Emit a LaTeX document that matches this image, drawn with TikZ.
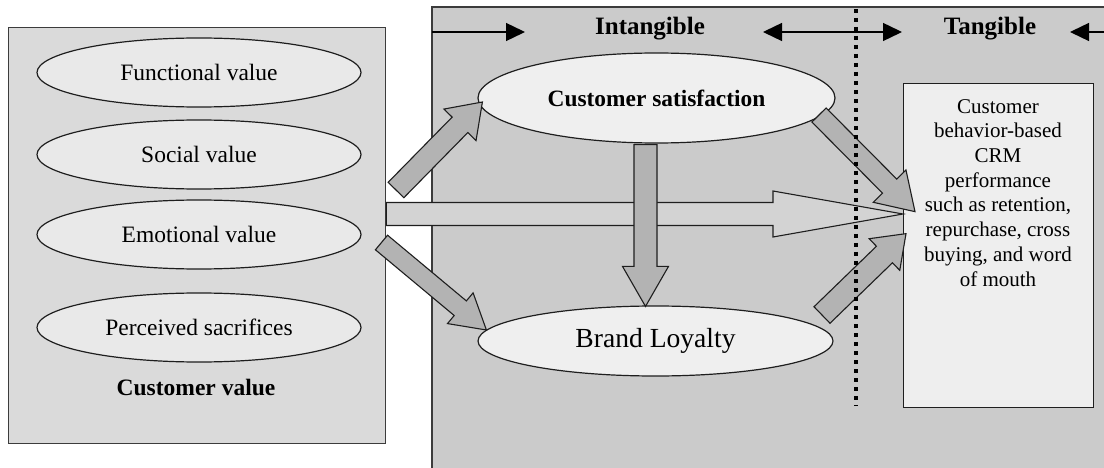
\documentclass[tikz,border=0pt]{standalone}
\usepackage{fontspec}
\setmainfont{Liberation Serif}
\usetikzlibrary{calc,arrows.meta,shapes.geometric}
\definecolor{lpanel}{HTML}{DADADA}
\definecolor{rpanel}{HTML}{CBCBCB}
\definecolor{lell}{HTML}{E9E9E9}
\definecolor{rell}{HTML}{EFEFEF}
\definecolor{boxfill}{HTML}{EEEEEE}
\definecolor{blk}{HTML}{B3B3B3}
\definecolor{hblk}{HTML}{D3D3D3}
\definecolor{edge}{HTML}{1E1E1E}
\definecolor{pedge}{HTML}{3C3C3C}
% #1 style, #2 from, #3 to, #4 half body, #5 half head, #6 head length
\newcommand{\blkarrow}[6]{%
  \path ($#3!#6!#2$) coordinate (bh);
  \draw[#1] ($#2!#4!90:#3$) -- ($(bh)!#4!90:#3$) -- ($(bh)!#5!90:#3$) -- #3
    -- ($(bh)!#5!-90:#3$) -- ($(bh)!#4!-90:#3$) -- ($#2!#4!-90:#3$) -- cycle;}
\tikzset{
  panel/.style={draw=pedge, line width=1.3pt},
  lellipse/.style={ellipse, draw=edge, line width=1.2pt, fill=lell, inner sep=0pt,
    minimum width=324pt, minimum height=69pt, font=\fontsize{23.5}{28}\selectfont},
  rellipse/.style={ellipse, draw=edge, line width=1.2pt, fill=rell, inner sep=0pt},
  blockarr/.style={draw=edge, line width=1.1pt, fill=blk, line join=miter},
  harr/.style={draw=edge, line width=1.1pt, fill=hblk, line join=miter},
  dotline/.style={line width=4pt, dash pattern=on 4pt off 5pt},
  toparrow/.style={line width=1.4pt, -{Triangle[length=19pt,width=18pt]}},
  toplabel/.style={anchor=base, inner sep=0pt, font=\fontsize{25}{30}\selectfont\bfseries},
}
\begin{document}
\begin{tikzpicture}[x=1pt,y=-1pt]
\useasboundingbox (0,0) rectangle (1104,468);
% right panel
\fill[rpanel] (432,7) rectangle (1104,468);
\draw[panel] (432,468) -- (432,7) -- (1104,7);
% left panel
\node[panel, fill=lpanel, minimum width=377pt, minimum height=416pt, inner sep=0pt, anchor=north west] (cvpanel) at (8,27) {};
\node[lellipse] (fv) at (199,72.5) {Functional value};
\node[lellipse] (sv) at (199,154.5) {Social value};
\node[lellipse] (ev) at (199,234.5) {Emotional value};
\node[lellipse] (ps) at (199,327.5) {Perceived sacrifices};
\node[anchor=base, inner sep=0pt, font=\fontsize{23.5}{28}\selectfont\bfseries] (cvl) at (196,395) {Customer value};
% middle ellipses
\node[rellipse, minimum width=357pt, minimum height=90pt, font=\fontsize{23.4}{28}\selectfont\bfseries] (cs) at (656.5,98) {Customer satisfaction};
\node[rellipse, minimum width=355pt, minimum height=70pt, font=\fontsize{27.6}{33}\selectfont] (bl) at (655.5,341) {Brand Loyalty};
% result box
\node[draw=edge, line width=1.3pt, fill=boxfill, minimum width=190pt, minimum height=324pt, inner sep=0pt, anchor=north west] (crm) at (903,83) {};
\node[anchor=north, inner sep=0pt, align=center, font=\fontsize{21}{24.7}\selectfont] (crmt) at (998,99)
  {Customer\\behavior-based\\CRM\\performance\\such as retention,\\repurchase, cross\\buying, and word\\of mouth};
% arrow end points
\coordinate (a1s) at (396,190);
\coordinate (a1e) at ($(cs.west)+(5,4)$);
\coordinate (a2s) at (381.5,242.5);
\coordinate (a2e) at ($(bl.west)+(9,-11)$);
\coordinate (a3s) at (cvpanel.east |- 0,214);
\coordinate (a3e) at (crm.west |- 0,214);
\coordinate (a4s) at ($(cs.south)+(-11,1)$);
\coordinate (a4e) at ($(bl.north)+(-10,1)$);
\coordinate (a5s) at (819,115);
\coordinate (a5e) at ($(crm.west)+(12,-34)$);
\coordinate (a6s) at (822,315);
\coordinate (a6e) at ($(crm.west)+(3,-12)$);
% block arrows
\blkarrow{blockarr}{(a1s)}{(a1e)}{11pt}{22.5pt}{32pt}
\blkarrow{blockarr}{(a2s)}{(a2e)}{9.5pt}{20pt}{34pt}
\blkarrow{harr}{(a3s)}{(a3e)}{11.5pt}{23pt}{130pt}
\blkarrow{blockarr}{(a4s)}{(a4e)}{11.5pt}{23pt}{40pt}
\blkarrow{blockarr}{(a5s)}{(a5e)}{10pt}{23pt}{36pt}
\blkarrow{blockarr}{(a6s)}{(a6e)}{11.5pt}{22pt}{30pt}
% dotted divider
\coordinate (dtop) at (856,9);
\coordinate (dbot) at (856,406);
\draw[dotline] (dtop) -- (dbot);
% header
\node[toplabel] (intl) at (650,35) {Intangible};
\node[toplabel] (tanl) at (990,35) {Tangible};
\coordinate (h1s) at (432,32);
\coordinate (h1e) at (525,32);
\coordinate (h2s) at (763,32);
\coordinate (h2e) at (902,32);
\coordinate (h3s) at (1104,32);
\coordinate (h3e) at (1070,32);
\draw[toparrow] (h1s) -- (h1e);
\draw[toparrow, {Triangle[length=19pt,width=18pt]}-{Triangle[length=19pt,width=18pt]}] (h2s) -- (h2e);
\draw[toparrow] (h3s) -- (h3e);
\end{tikzpicture}
\end{document}
